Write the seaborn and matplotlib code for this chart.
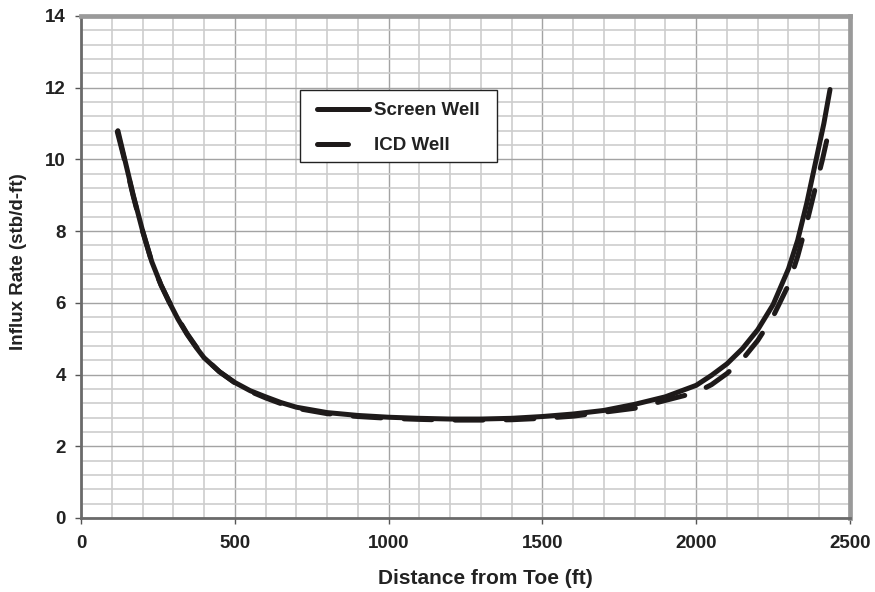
import matplotlib
matplotlib.use("Agg")
import matplotlib.pyplot as plt
from matplotlib.ticker import MultipleLocator
from matplotlib.lines import Line2D
from matplotlib.patches import Rectangle
import seaborn as sns
import pandas as pd

# Influx rate along the well, distance measured from the toe (ft)
screen_x = [120, 145, 170, 199, 230, 260, 285, 315, 345, 375, 400, 450, 500, 550, 600,
            650, 700, 800, 900, 1000, 1100, 1200, 1300, 1400, 1500, 1600, 1700, 1800,
            1900, 2000, 2050, 2100, 2150, 2200, 2250, 2300, 2330, 2360, 2390, 2415, 2435]
screen_y = [10.8, 9.9, 9.0, 8.05, 7.15, 6.5, 6.05, 5.55, 5.12, 4.75, 4.47, 4.08, 3.78, 3.55, 3.38,
            3.22, 3.09, 2.94, 2.86, 2.81, 2.78, 2.76, 2.76, 2.78, 2.83, 2.9, 3.0, 3.17,
            3.38, 3.7, 3.98, 4.3, 4.72, 5.25, 5.95, 6.95, 7.75, 8.8, 10.0, 11.0, 11.95]

icd_x = [118, 145, 170, 199, 230, 260, 285, 315, 345, 375, 400, 450, 500, 550, 600,
         650, 700, 800, 900, 1000, 1100, 1200, 1300, 1400, 1500, 1600, 1700, 1800,
         1900, 2000, 2050, 2100, 2150, 2200, 2250, 2300, 2330, 2360, 2390, 2410, 2432]
icd_y = [10.77, 9.87, 8.97, 8.03, 7.14, 6.5, 6.06, 5.57, 5.14, 4.77, 4.48, 4.08, 3.77, 3.53, 3.35,
         3.19, 3.06, 2.91, 2.83, 2.78, 2.75, 2.73, 2.73, 2.74, 2.78, 2.84, 2.95, 3.06,
         3.28, 3.5, 3.72, 4.03, 4.42, 4.95, 5.62, 6.5, 7.3, 8.25, 9.3, 9.98, 10.82]

series_names = ["Screen Well", "ICD Well"]
x_ticks = [0, 500, 1000, 1500, 2000, 2500]
y_ticks = [0, 2, 4, 6, 8, 10, 12, 14]

df = pd.concat([
    pd.DataFrame({"Distance": screen_x, "Rate": screen_y, "Well": series_names[0]}),
    pd.DataFrame({"Distance": icd_x, "Rate": icd_y, "Well": series_names[1]}),
])

sns.set_style("white")
plt.rcParams["font.family"] = ["Liberation Sans", "DejaVu Sans"]
plt.rcParams["font.weight"] = "bold"

W, H = 875, 592
fig = plt.figure(figsize=(W / 100, H / 100), dpi=100)
ax_l, ax_r, ax_t, ax_b = 81, 850, 16, 518
ax = fig.add_axes([ax_l / W, 1 - ax_b / H, (ax_r - ax_l) / W, (ax_b - ax_t) / H])


def ax_frac(px, py):
    """Pixel position on the figure -> axes fraction."""
    return (px - ax_l) / (ax_r - ax_l), (ax_b - py) / (ax_b - ax_t)


line_color = "#1e1a1a"
lw = 3.6
sns.lineplot(data=df[df.Well == series_names[0]], x="Distance", y="Rate", ax=ax,
             color=line_color, linewidth=lw, sort=False, estimator=None,
             solid_capstyle="round", solid_joinstyle="round", zorder=4, legend=False)
sns.lineplot(data=df[df.Well == series_names[1]], x="Distance", y="Rate", ax=ax,
             color=line_color, linewidth=lw, sort=False, estimator=None,
             zorder=3, legend=False)
icd_line = ax.lines[-1]
icd_line.set_dashes((5.6, 4.6))
icd_line.set_dash_capstyle("round")

ax.set_xlim(0, 2500)
ax.set_ylim(0, 14)
ax.set_xticks(x_ticks)
ax.set_yticks(y_ticks)
ax.xaxis.set_minor_locator(MultipleLocator(100))
ax.yaxis.set_minor_locator(MultipleLocator(0.4))

ax.grid(which="minor", color="#cdcdcd", linewidth=1.2, zorder=0)
ax.grid(which="major", color="#a3a3a3", linewidth=1.0, zorder=0)
ax.set_axisbelow(True)

ax.tick_params(axis="both", which="major", direction="out", length=4, width=1,
               color="#555555", labelsize=13.5, labelcolor="#222222")
ax.tick_params(axis="x", which="major", pad=8, bottom=True)
ax.tick_params(axis="y", which="major", pad=7, left=True)
ax.tick_params(which="minor", length=0)
for lab in ax.get_xticklabels() + ax.get_yticklabels():
    lab.set_fontweight("bold")

for side in ["top", "right"]:
    ax.spines[side].set_color("#9a9a9a")
    ax.spines[side].set_linewidth(3.4)
for side in ["left", "bottom"]:
    ax.spines[side].set_color("#6a6a6a")
    ax.spines[side].set_linewidth(2.0)

ax.set_xlabel("Distance from Toe (ft)", fontsize=15, fontweight="bold", color="#222222")
ax.set_ylabel("Influx Rate (stb/d-ft)", fontsize=13.5, fontweight="bold", color="#222222")
ax.xaxis.set_label_coords(*ax_frac(485, 569))
ax.yaxis.set_label_coords(*ax_frac(27, 262))

# legend box, drawn separately so its padding can be set freely
bx0, by0 = ax_frac(300, 162)
bx1, by1 = ax_frac(497, 90)
ax.add_patch(Rectangle((bx0, by0), bx1 - bx0, by1 - by0, transform=ax.transAxes,
                       facecolor="white", edgecolor="#222222", linewidth=1.0, zorder=5))

handles = [
    Line2D([], [], color=line_color, linewidth=lw, solid_capstyle="round"),
    Line2D([], [], color=line_color, linewidth=lw, dashes=(6.2, 20), dash_capstyle="round"),
]
leg = ax.legend(handles, series_names, loc="upper left",
                bbox_to_anchor=ax_frac(317, 102),
                frameon=False, handlelength=2.75, handletextpad=0.3,
                borderpad=0, borderaxespad=0, labelspacing=0.97,
                prop={"weight": "bold", "size": 13.5})
leg.set_zorder(6)
for t in leg.get_texts():
    t.set_color("#222222")

fig.savefig("out.png", dpi=100, facecolor="white")
